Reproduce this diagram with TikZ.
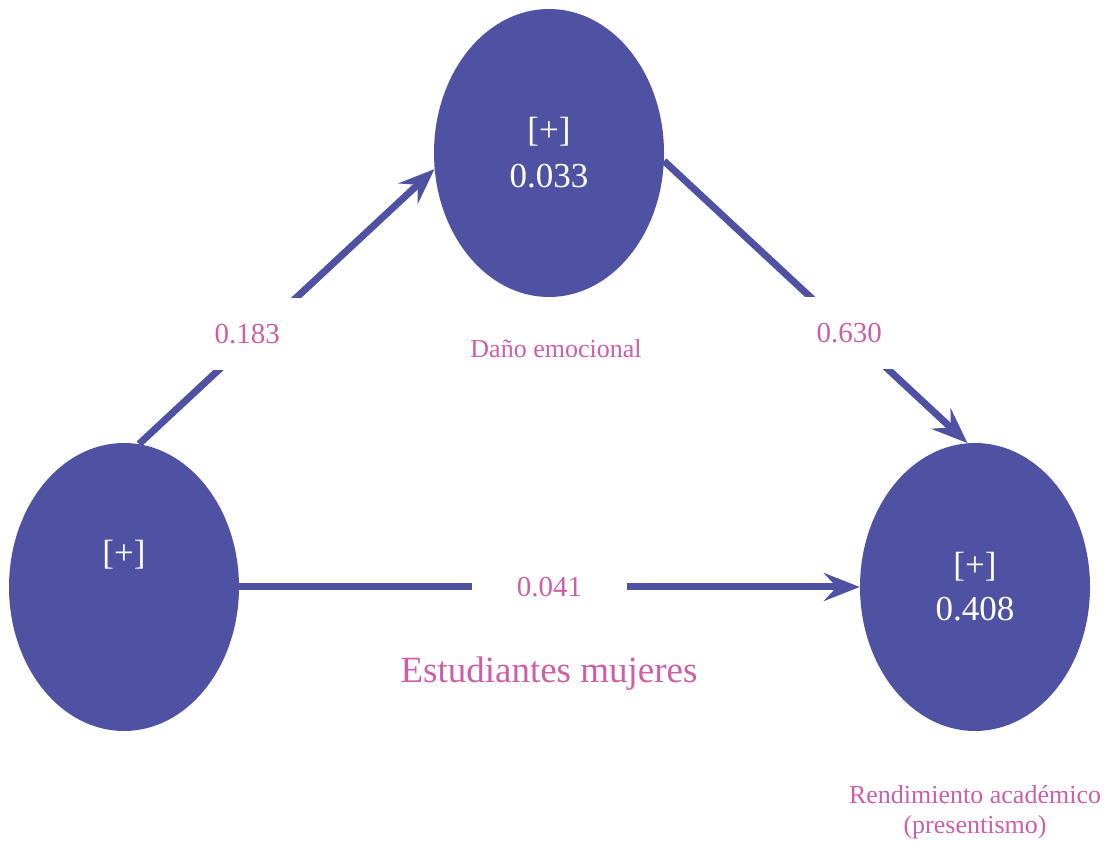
\documentclass[tikz,border=0pt]{standalone}
\usepackage{fontspec}
\setmainfont{Liberation Serif}
\usetikzlibrary{arrows.meta, positioning, shapes.geometric}

\definecolor{nodeblue}{HTML}{4F52A3}
\definecolor{labelpink}{HTML}{CC5FA8}

\begin{document}
\begin{tikzpicture}[x=1pt,y=1pt,on grid,
    latent/.style={ellipse,fill=nodeblue,minimum width=230pt,minimum height=288pt,
        inner sep=0pt,text=white,font=\fontsize{35}{46}\selectfont,align=center},
    effect/.style={draw=nodeblue,line width=7pt,
        -{Stealth[length=36pt,width=28pt,inset=13pt]}},
    weight/.style={fill=white,text=labelpink,inner xsep=45pt,inner ysep=26pt,
        font=\fontsize{29}{32}\selectfont},
    caption/.style={text=labelpink,align=center,font=\fontsize{26}{30}\selectfont}]

   \useasboundingbox (0,0) rectangle (1107,842);

   \node[latent] (dano) at (549,689) {[+]\\0.033};
   \node[latent,font=\fontsize{35}{40}\selectfont] (mujeres) [below left=434pt and 425pt of dano] {[+]\\[30pt]};
   \node[latent,font=\fontsize{35}{44}\selectfont] (rend) [right=851pt of mujeres] {[+]\\0.408};

   \node[caption] (danolab) [below right=196pt and 7pt of dano] {Daño emocional};
   \node[caption,font=\fontsize{37}{40}\selectfont] (mujereslab) [below=521pt of dano] {Estudiantes mujeres};
   \node[caption] (rendlab) [below=225pt of rend] {Rendimiento académico\\(presentismo)};

   \draw[effect] (mujeres.84) -- node[weight,pos=0.4,xshift=-10pt] {0.183} (dano.188);
   \draw[effect] (dano.356) -- node[weight,pos=0.61] {0.630} (rend.93);
   \draw[effect] (mujeres.east) -- node[weight] {0.041} (rend.west);

\end{tikzpicture}
\end{document}
